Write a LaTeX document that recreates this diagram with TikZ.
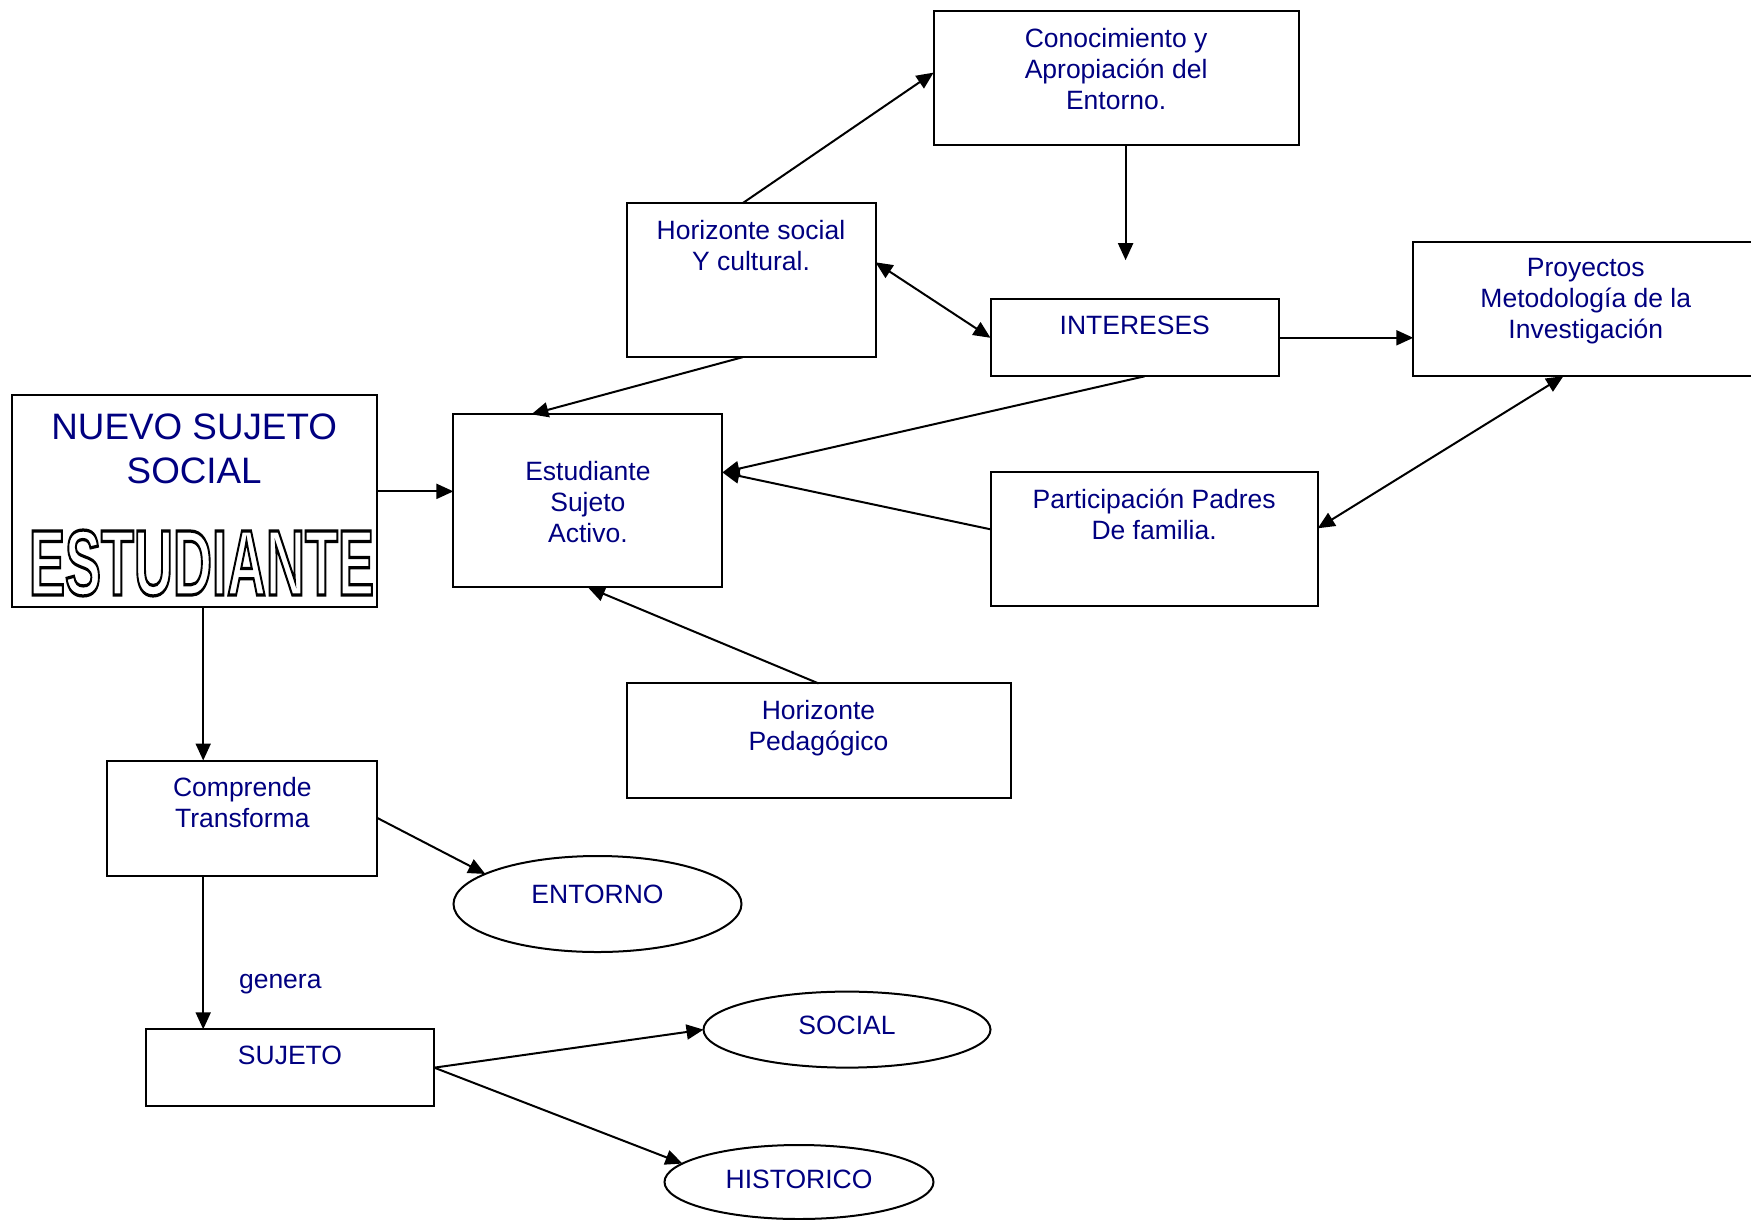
\documentclass[tikz,border=0pt]{standalone}
\usepackage{fontspec}
\setmainfont{Liberation Sans}
\usetikzlibrary{arrows.meta,shapes.geometric,calc}
\definecolor{navytext}{RGB}{0,0,128}
% stroked (outline) lettering through the pdf text rendering mode
\newcommand{\outlinetext}[1]{\special{pdf:literal direct 1 Tr 3.2 w}#1\special{pdf:literal direct 0 Tr}}

\begin{document}
\begin{tikzpicture}[x=1pt,y=-1pt,
  box/.style={draw, line width=2pt, rectangle, inner sep=0pt, outer sep=0pt, anchor=north west},
  oval/.style={draw, line width=2pt, ellipse, inner sep=0pt, outer sep=0pt},
  txt/.style={text=navytext, font=\fontsize{26.5}{31}\selectfont, align=center, inner sep=0pt},
  toptxt/.style={txt, anchor=north},
  arr/.style={line width=2pt, -{Triangle[length=17pt,width=15pt]}},
  darr/.style={line width=2pt, {Triangle[length=17pt,width=15pt]}-{Triangle[length=17pt,width=15pt]}},
]
\useasboundingbox (0,0) rectangle (1751,1219);

% rectangular boxes
\node[box, minimum width=365pt, minimum height=134pt] (cono) at (933.6,11.2) {};
\node[box, minimum width=249pt, minimum height=154pt] (hs) at (626.5,203.2) {};
\node[box, minimum width=288.5pt, minimum height=77pt] (int) at (990.5,299.3) {};
\node[box, minimum width=345pt, minimum height=134.5pt] (proy) at (1413.3,241.7) {};
\node[box, minimum width=327.2pt, minimum height=134pt] (part) at (990.5,472.4) {};
\node[box, minimum width=269pt, minimum height=173pt] (est) at (453.4,414.3) {};
\node[box, minimum width=365pt, minimum height=211.7pt] (nuevo) at (11.7,395) {};
\node[box, minimum width=384pt, minimum height=115pt] (hp) at (626.5,683.4) {};
\node[box, minimum width=270.2pt, minimum height=115pt] (comp) at (107.2,760.5) {};
\node[box, minimum width=288.6pt, minimum height=76.7pt] (suj) at (145.7,1029.3) {};

% ellipses
\node[oval, minimum width=288pt, minimum height=96pt] (entorno) at (597.5,904) {};
\node[oval, minimum width=287pt, minimum height=76pt] (social) at (847,1029.6) {};
\node[oval, minimum width=269pt, minimum height=74pt] (hist) at (799,1182) {};

% box texts
\node[toptxt] (conoT) at ([yshift=-16.5pt]cono.north) {Conocimiento y\\Apropiación del\\Entorno.};
\node[toptxt] (hsT) at ([yshift=-16.5pt]hs.north) {Horizonte social\\Y cultural.};
\node[toptxt] (intT) at ([yshift=-16.5pt]int.north) {INTERESES};
\node[toptxt] (proyT) at ([yshift=-16.5pt]proy.north) {Proyectos\\Metodología de la\\Investigación};
\node[toptxt] (partT) at ([yshift=-16.5pt]part.north) {Participación Padres\\De familia.};
\node[txt] (estT) at ([yshift=-1.7pt]est.center) {Estudiante\\Sujeto\\Activo.};
\node[toptxt] (hpT) at ([yshift=-16.5pt]hp.north) {Horizonte\\Pedagógico};
\node[toptxt] (compT) at ([yshift=-16.5pt]comp.north) {Comprende\\Transforma};
\node[toptxt] (sujT) at ([yshift=-16.5pt]suj.north) {SUJETO};
\node[toptxt, font=\fontsize{36.8}{43.5}\selectfont] (nuevoT) at ([yshift=-19pt]nuevo.north) {NUEVO SUJETO\\SOCIAL};
% outlined title word
\node[inner sep=0pt] (estu) at (201.5,563)
  {\resizebox{345pt}{65pt}{\fontsize{92}{100}\selectfont\bfseries\outlinetext{ESTUDIANTE}}};

% ellipse texts
\node[txt] (entornoT) at ([yshift=10pt]entorno.center) {ENTORNO};
\node[txt] (socialT) at ([yshift=4.5pt]social.center) {SOCIAL};
\node[txt] (histT) at ([yshift=2.8pt]hist.center) {HISTORICO};
\node[txt] (gen) at (280.3,983.8) {genera};

% connectors
\coordinate (intTop) at (1125.6,260.2);
\draw[arr] ([xshift=-8.4pt]hs.north) -- ([yshift=5.6pt]cono.west);
\draw[arr] ([xshift=9.5pt]cono.south) -- (intTop);
\draw[darr] ([yshift=17.9pt]hs.east) -- (int.west);
\draw[arr] (int.east) -- (int.east -| proy.west);
\draw[darr] ([xshift=-22.5pt]proy.south) -- ([yshift=11.1pt]part.east);
\draw[arr] ([xshift=-8.4pt]hs.south) -- ([xshift=-56.5pt]est.north);
\draw[arr] ([xshift=9.85pt]int.south) -- ([yshift=28.4pt]est.east);
\draw[arr] ([yshift=10.1pt]part.west) -- ([yshift=28.4pt]est.east);
\draw[arr] (hp.north) -- (est.south);
\draw[arr] ([yshift=9.5pt]nuevo.east) -- ([yshift=9.5pt]nuevo.east -| est.west);
\draw[arr] ([xshift=9pt]nuevo.south) -- ([xshift=9pt]nuevo.south |- comp.north);
\draw[arr] (comp.east) -- (entorno.165);
\draw[arr] ([xshift=-39.1pt]comp.south) -- ([xshift=-39.1pt]comp.south |- suj.north);
\draw[arr] (suj.east) -- (social.west);
\draw[arr] (suj.east) -- (hist.171);
\end{tikzpicture}
\end{document}
